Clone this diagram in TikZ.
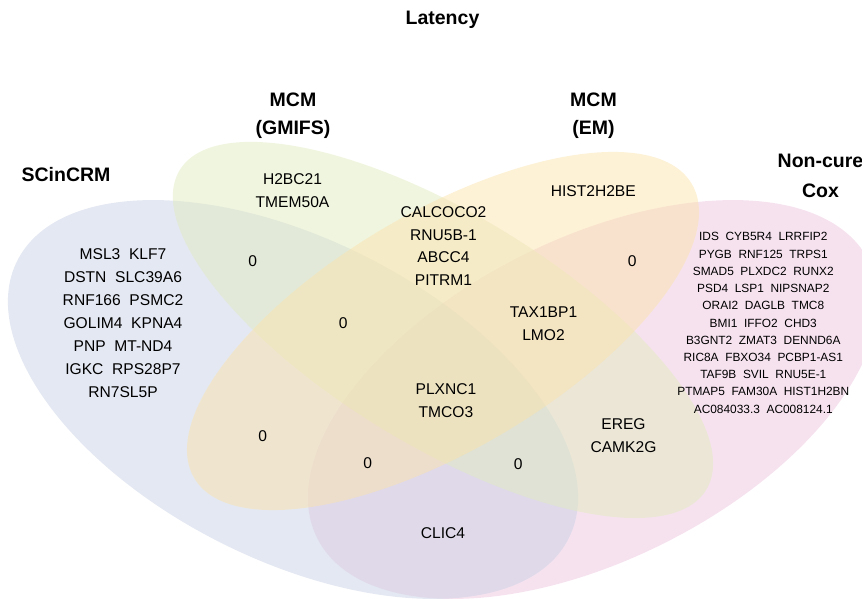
\documentclass[tikz,border=0pt]{standalone}
\usepackage{fontspec}
\setmainfont{Liberation Sans}
\definecolor{cBlue}{RGB}{201,209,229}
\definecolor{cGreen}{RGB}{225,235,191}
\definecolor{cOrange}{RGB}{251,227,173}
\definecolor{cPink}{RGB}{237,197,223}
\begin{document}
\begin{tikzpicture}[x=1pt,y=-1pt,
  setfill/.style={fill=#1, fill opacity=0.5},
  gene/.style={font=\fontsize{15.6}{22.9}\selectfont, align=center, inner sep=0pt},
  small/.style={font=\fontsize{11.9}{17.23}\selectfont, align=center, inner sep=0pt},
  cat/.style={font=\fontsize{19.5}{27}\selectfont\bfseries, anchor=base, inner sep=0pt}]
\useasboundingbox (0,0) rectangle (862,600);
\clip (0,0) rectangle (862,600);
\coordinate (cB) at (293,399.5);
\coordinate (cG) at (443,330);
\coordinate (cO) at (443,331);
\coordinate (cP) at (593,399.5);
\fill[setfill=cPink, rotate around={26.7:(cP)}] (cP) ellipse [x radius=308.7pt, y radius=160.4pt];
\fill[setfill=cBlue, rotate around={-26.7:(cB)}] (cB) ellipse [x radius=308.7pt, y radius=160.4pt];
\fill[setfill=cGreen, rotate around={-31.25:(cG)}] (cG) ellipse [x radius=308pt, y radius=116pt];
\fill[setfill=cOrange, rotate around={30.6:(cO)}] (cO) ellipse [x radius=289pt, y radius=118.6pt];

\node[cat] (tLat) at (442.5,24.5) {Latency};
\node[cat] (tG1) at (293,106.7) {MCM};
\node[cat] (tG2) at (293,134) {(GMIFS)};
\node[cat] (tE1) at (593.5,106.7) {MCM};
\node[cat] (tE2) at (593.5,134) {(EM)};
\node[cat] (tS) at (66,181.7) {SCinCRM};
\node[cat] (tN1) at (820.5,167.7) {Non-cure};
\node[cat] (tN2) at (820.5,197) {Cox};

\node[gene] (sA) at (123,323.2) {MSL3~~KLF7\\DSTN~~SLC39A6\\RNF166~~PSMC2\\GOLIM4~~KPNA4\\PNP~~MT-ND4\\IGKC~~RPS28P7\\RN7SL5P};
\node[gene] (sG) at (292.5,190.7) {H2BC21\\TMEM50A};
\node[gene] (sGE) at (443.5,246) {CALCOCO2\\RNU5B-1\\ABCC4\\PITRM1};
\node[gene] (sE) at (593.3,190.7) {HIST2H2BE};
\node[gene] (z1) at (252.7,260.7) {0};
\node[gene] (z2) at (343.3,323.3) {0};
\node[gene] (z3) at (632.3,261) {0};
\node[gene] (z4) at (262.7,435.7) {0};
\node[gene] (z5) at (367.7,463.3) {0};
\node[gene] (z6) at (518.3,464) {0};
\node[gene] (sEP) at (543.5,324) {TAX1BP1\\LMO2};
\node[gene] (sAll) at (446,400.5) {PLXNC1\\TMCO3};
\node[gene] (sGP) at (623.5,435.5) {EREG\\CAMK2G};
\node[gene] (sAP) at (443,533) {CLIC4};
\node[small] (sP) at (763.3,322.9) {IDS~~CYB5R4~~LRRFIP2\\PYGB~~RNF125~~TRPS1\\SMAD5~~PLXDC2~~RUNX2\\PSD4~~LSP1~~NIPSNAP2\\ORAI2~~DAGLB~~TMC8\\BMI1~~IFFO2~~CHD3\\B3GNT2~~ZMAT3~~DENND6A\\RIC8A~~FBXO34~~PCBP1-AS1\\TAF9B~~SVIL~~RNU5E-1\\PTMAP5~~FAM30A~~HIST1H2BN\\AC084033.3~~AC008124.1};
\end{tikzpicture}
\end{document}
